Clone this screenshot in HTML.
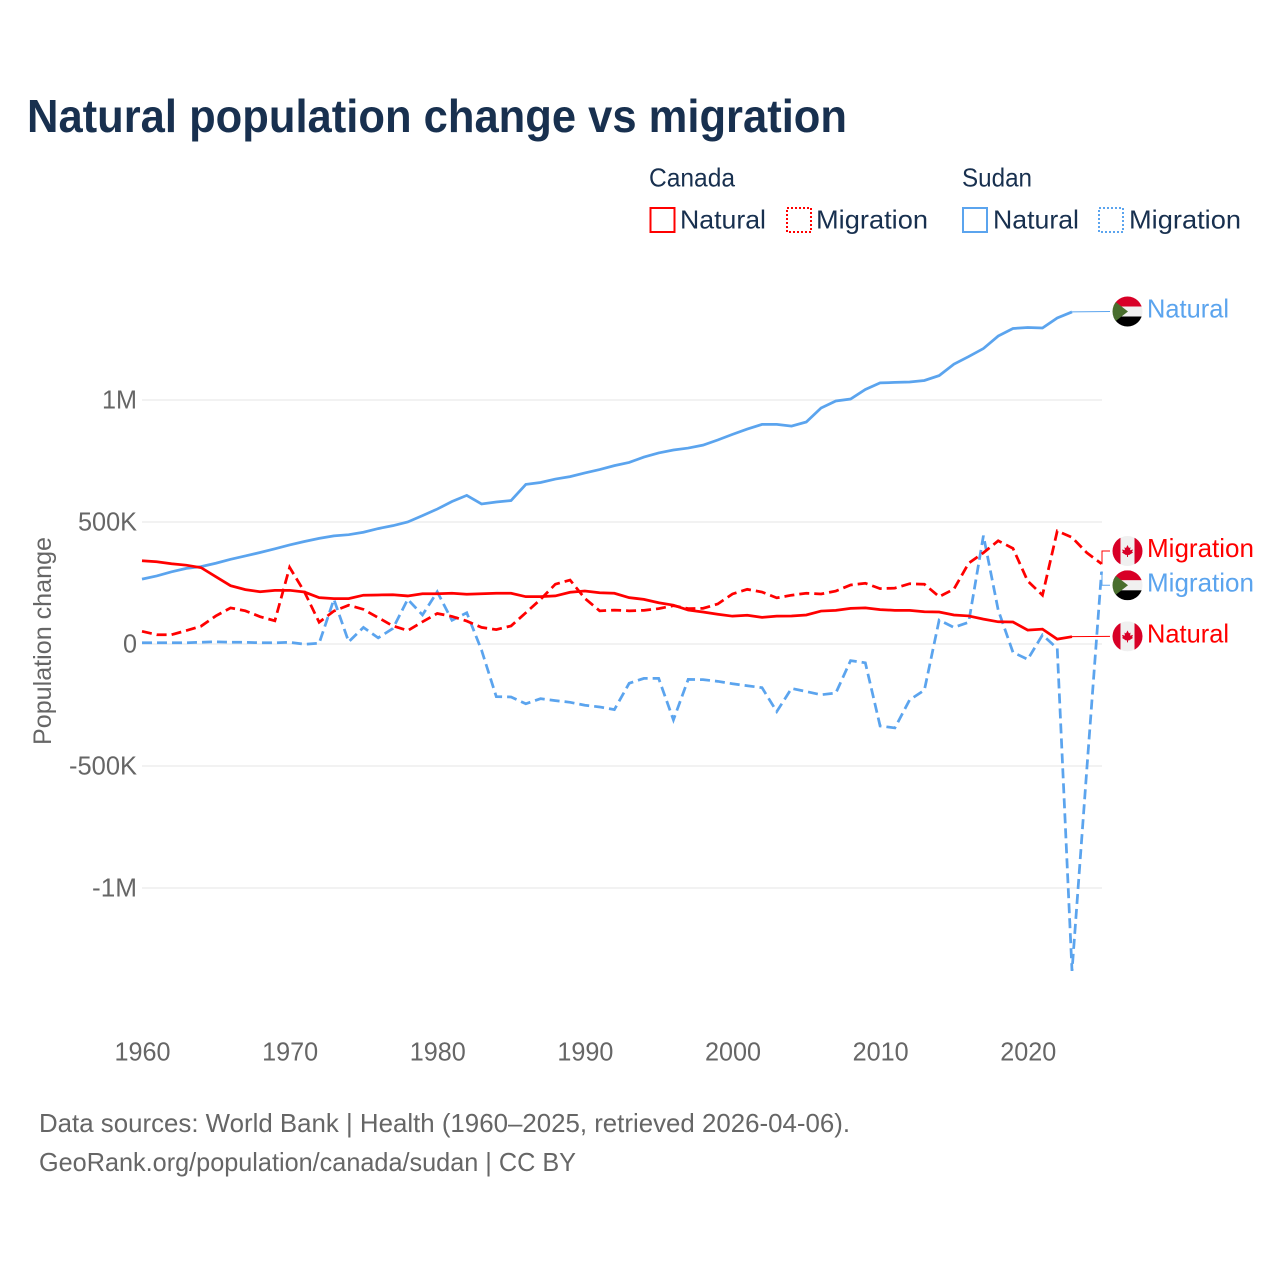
<!DOCTYPE html>
<html lang="en">
<head>
<meta charset="utf-8">
<title>Natural population change vs migration</title>
<style>
html,body{margin:0;padding:0;background:#fff;}
svg{display:block;font-family:"Liberation Sans",Arial,sans-serif;}
</style>
</head>
<body>
<svg id="chart" width="1280" height="1280" viewBox="0 0 1280 1280" xmlns="http://www.w3.org/2000/svg">
  <rect width="1280" height="1280" fill="#ffffff"/>
  <text x="27" y="132" font-size="46" font-weight="700" fill="#18304f" textLength="820" lengthAdjust="spacingAndGlyphs">Natural population change vs migration</text>

  <g font-size="26" fill="#18304f">
    <text x="649" y="186.5" textLength="86" lengthAdjust="spacingAndGlyphs">Canada</text>
    <text x="962" y="186.5" textLength="70" lengthAdjust="spacingAndGlyphs">Sudan</text>
    <rect x="650.5" y="208" width="24" height="24" fill="none" stroke="#ff0000" stroke-width="2"/>
    <text x="680" y="228.5" textLength="86" lengthAdjust="spacingAndGlyphs">Natural</text>
    <rect x="787" y="208" width="24" height="24" fill="none" stroke="#ff0000" stroke-width="2" stroke-dasharray="2 2"/>
    <text x="816" y="228.5" textLength="112" lengthAdjust="spacingAndGlyphs">Migration</text>
    <rect x="963" y="208" width="24" height="24" fill="none" stroke="#5ba4ee" stroke-width="2"/>
    <text x="993" y="228.5" textLength="86" lengthAdjust="spacingAndGlyphs">Natural</text>
    <rect x="1099" y="208" width="24" height="24" fill="none" stroke="#5ba4ee" stroke-width="2" stroke-dasharray="2 2"/>
    <text x="1129" y="228.5" textLength="112" lengthAdjust="spacingAndGlyphs">Migration</text>
  </g>

  <text transform="translate(51,745) rotate(-90)" font-size="25" fill="#666666" textLength="208" lengthAdjust="spacingAndGlyphs">Population change</text>

  <g id="grid"></g>
  <g id="yticks"></g>
  <g id="xticks"></g>
  <g id="series"></g>
  <g id="labels"></g>

  <g font-size="26" fill="#666666">
    <text x="39" y="1132" textLength="811" lengthAdjust="spacingAndGlyphs">Data sources: World Bank | Health (1960–2025, retrieved 2026-04-06).</text>
    <text x="39" y="1171" textLength="537" lengthAdjust="spacingAndGlyphs">GeoRank.org/population/canada/sudan | CC BY</text>
  </g>
</svg>

<script>
// Values are in thousands of people per year, starting in 1960.
const startYear = 1960;
const canadaNatural = [341,337,329,323,313,276,239,223,214,220,220,213,190,186,186,200,201,202,197,206,206,208,204,206,208,208,194,194,197,212,217,210,208,190,183,169,159,139,131,122,114,118,109,114,115,119,135,138,146,148,141,138,138,132,131,119,115,102,91,90,57,61,20,30];
const canadaMigration = [52,38,38,55,73,115,148,136,112,95,314,214,89,135,159,142,108,74,55,91,125,113,94,68,59,74,128,183,245,262,187,136,139,136,138,145,157,145,146,164,205,224,213,189,200,208,205,217,242,249,227,229,247,245,194,225,331,374,423,392,258,200,463,437,374,329];
const sudanNatural = [266,279,296,310,317,331,347,361,375,390,406,420,433,443,448,458,473,485,500,526,553,584,609,574,582,588,654,662,676,686,701,715,731,744,766,783,795,803,815,836,859,881,900,900,893,910,967,996,1004,1043,1070,1072,1074,1080,1100,1147,1178,1211,1262,1293,1297,1295,1336,1361];
const sudanMigration = [5,5,5,5,7,9,7,7,5,5,7,-1,3,183,9,68,25,64,183,119,214,97,128,-25,-216,-217,-245,-224,-232,-239,-251,-258,-269,-161,-141,-141,-311,-145,-146,-153,-163,-171,-179,-277,-182,-195,-208,-201,-68,-77,-336,-344,-229,-189,98,68,89,444,139,-34,-63,37,-18,-1340,-516,296];
const yTickValues = [1000,500,0,-500,-1000];
const yTickLabels = ['1M','500K','0','-500K','-1M'];
const xTickYears = [1960,1970,1980,1990,2000,2010,2020];

const NS = 'http://www.w3.org/2000/svg';
const RED = '#ff0000';
const BLUE = '#5ba4ee';
const x = function (year) { return 142 + (year - 1960) * 14.762; };
const y = function (k) { return 644 - k * 0.244; };

function make(parent, tag, attrs, text) {
  const el = document.createElementNS(NS, tag);
  for (const key in attrs) el.setAttribute(key, attrs[key]);
  if (text !== undefined) el.textContent = text;
  parent.appendChild(el);
  return el;
}

const yTickWidths = [35, 59, 14, 68, 45];
const gridGroup = document.getElementById('grid');
const yGroup = document.getElementById('yticks');
yTickValues.forEach(function (v, i) {
  const line = make(gridGroup, 'line', {x1: 142, x2: 1102, y1: y(v), y2: y(v), stroke: '#eeeeee', 'stroke-width': 1.5});
  
  
  const label = make(yGroup, 'text', {x: 137 - yTickWidths[i], y: y(v) + 8.5, 'font-size': 26, fill: '#666666', textLength: yTickWidths[i], lengthAdjust: 'spacingAndGlyphs'}, yTickLabels[i]);
  
  
});

const xGroup = document.getElementById('xticks');
xTickYears.forEach(function (year) {
  const label = make(xGroup, 'text', {x: x(year) - 27.5, y: 1060.5, 'font-size': 26, fill: '#666666', textLength: 56, lengthAdjust: 'spacingAndGlyphs'}, String(year));
  
  
});

function pathFor(values) {
  return values.map(function (v, i) {
    return (i ? 'L' : 'M') + x(startYear + i).toFixed(2) + ' ' + y(v).toFixed(2);
  }).join(' ');
}

const seriesGroup = document.getElementById('series');
function drawSeries(values, color, dashed, name) {
  const attrs = {d: pathFor(values), fill: 'none', stroke: color, 'stroke-width': 2.75, 'stroke-linejoin': 'miter'};
  if (dashed) attrs['stroke-dasharray'] = '10 5';
  const line = make(seriesGroup, 'path', attrs);
  
  
}
drawSeries(sudanMigration, BLUE, true, 'line-sudan-migration');
drawSeries(sudanNatural, BLUE, false, 'line-sudan-natural');
drawSeries(canadaMigration, RED, true, 'line-canada-migration');
drawSeries(canadaNatural, RED, false, 'line-canada-natural');

const labelGroup = document.getElementById('labels');
let clipCount = 0;
function drawFlag(country, cy, name) {
  const cx = 1127.5;
  const g = make(labelGroup, 'g', {});
  
  
  const id = 'flag-clip-' + (++clipCount);
  const clip = make(g, 'clipPath', {id: id});
  make(clip, 'circle', {cx: cx, cy: cy, r: 15});
  const inner = make(g, 'g', {'clip-path': 'url(#' + id + ')'});
  if (country === 'canada') {
    make(inner, 'rect', {x: cx - 15, y: cy - 15, width: 30, height: 30, fill: '#f0f0f0'});
    make(inner, 'rect', {x: cx - 15, y: cy - 15, width: 8, height: 30, fill: '#d80027'});
    make(inner, 'rect', {x: cx + 7, y: cy - 15, width: 8, height: 30, fill: '#d80027'});
    const leaf = [[0,-6],[1.5,-3],[3,-3.8],[2.6,-0.8],[5.5,-1.5],[4.6,0.8],[5.6,1.5],[1.2,4.2],[0.5,3.6],[0.5,6],[-0.5,6],[-0.5,3.6],[-1.2,4.2],[-5.6,1.5],[-4.6,0.8],[-5.5,-1.5],[-2.6,-0.8],[-3,-3.8],[-1.5,-3]];
    make(inner, 'polygon', {points: leaf.map(function (p) { return (cx + p[0]) + ',' + (cy + p[1]); }).join(' '), fill: '#d80027'});
  } else {
    make(inner, 'rect', {x: cx - 15, y: cy - 15, width: 30, height: 10, fill: '#d80027'});
    make(inner, 'rect', {x: cx - 15, y: cy - 5, width: 30, height: 10, fill: '#f0f0f0'});
    make(inner, 'rect', {x: cx - 15, y: cy + 5, width: 30, height: 10, fill: '#000000'});
    make(inner, 'polygon', {points: (cx - 15) + ',' + (cy - 12) + ' ' + (cx + 0.5) + ',' + cy + ' ' + (cx - 15) + ',' + (cy + 12), fill: '#496e2d'});
  }
}

function drawEndLabel(values, country, labelY, color, text, width) {
  const key = country + '-' + text.toLowerCase();
  const endX = x(startYear + values.length - 1);
  const endY = y(values[values.length - 1]);
  let d = 'M' + endX + ' ' + endY;
  if (Math.abs(endY - labelY) > 1) d += ' L1102 ' + endY + ' L1102 ' + labelY;
  d += ' L1110 ' + labelY;
  const connector = make(labelGroup, 'path', {d: d, fill: 'none', stroke: color, 'stroke-width': 1});
  
  
  drawFlag(country, labelY, 'flag-' + key);
  const label = make(labelGroup, 'text', {x: 1147, y: labelY + 6, 'font-size': 26, fill: color, textLength: width, lengthAdjust: 'spacingAndGlyphs'}, text);
  
  
}
drawEndLabel(sudanNatural, 'sudan', 311.5, BLUE, 'Natural', 82);
drawEndLabel(canadaMigration, 'canada', 551, RED, 'Migration', 107);
drawEndLabel(sudanMigration, 'sudan', 585.3, BLUE, 'Migration', 107);
drawEndLabel(canadaNatural, 'canada', 636.4, RED, 'Natural', 82);
</script>
</body>
</html>
